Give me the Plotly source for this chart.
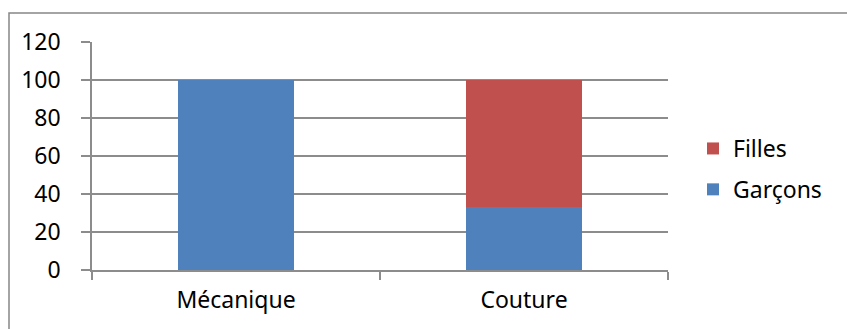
import plotly.graph_objects as go

# Répartition des apprenants par filière (%)
categories = ["Mécanique", "Couture"]
garcons = [100, 33.33]
filles = [0, 66.67]
y_ticks = [0, 20, 40, 60, 80, 100, 120]

W, H = 847, 329
ML, MR, MT, MB = 92, 179, 42, 59
PW, PH = W - ML - MR, H - MT - MB

BLUE = "#4F81BD"
RED = "#C0504D"
GRID = "#8C8C8C"
FONT = dict(family="Noto Sans, Open Sans, Liberation Sans, sans-serif", size=23, color="#000000")

fig = go.Figure()
fig.add_trace(go.Bar(x=categories, y=garcons, name="Garçons", marker=dict(color=BLUE, line=dict(width=0)),
                     legendgroup="g", legendrank=2))
fig.add_trace(go.Bar(x=categories, y=filles, name="Filles", marker=dict(color=RED, line=dict(width=0)),
                     legendgroup="f", legendrank=1))


def px_to_paper_x(px):
    return (px - ML) / PW


def px_to_paper_y(py):
    return 1 - (py - MT) / PH


# Outer chart frame (only its top and left edges fall inside the page)
fig.add_shape(type="rect", xref="paper", yref="paper",
              x0=px_to_paper_x(9), x1=px_to_paper_x(W + 20),
              y0=px_to_paper_y(H + 20), y1=px_to_paper_y(13),
              line=dict(color="#868686", width=1.5), fillcolor="rgba(0,0,0,0)", layer="below")

fig.update_layout(
    width=W, height=H,
    margin=dict(l=ML, r=MR, t=MT, b=MB),
    barmode="stack",
    bargap=0.6,
    paper_bgcolor="white",
    plot_bgcolor="white",
    font=FONT,
    showlegend=True,
    legend=dict(
        x=px_to_paper_x(693), xanchor="left",
        y=px_to_paper_y(169), yanchor="middle",
        traceorder="grouped",
        tracegroupgap=8,
        font=FONT,
        bgcolor="rgba(0,0,0,0)",
    ),
    xaxis=dict(
        showline=True, linecolor=GRID, linewidth=1.5,
        ticks="outside", tickson="boundaries", ticklen=8, tickcolor=GRID, tickwidth=1.5,
        showgrid=False, tickfont=FONT, ticklabelstandoff=9,
    ),
    yaxis=dict(
        range=[0, 120], tickvals=y_ticks,
        showline=True, linecolor=GRID, linewidth=1.5,
        ticks="outside", ticklen=9, tickcolor=GRID, tickwidth=1.5,
        showgrid=True, gridcolor=GRID, gridwidth=1.5,
        zeroline=False, tickfont=FONT, ticklabelstandoff=16,
    ),
)

fig.write_html("out.html")
